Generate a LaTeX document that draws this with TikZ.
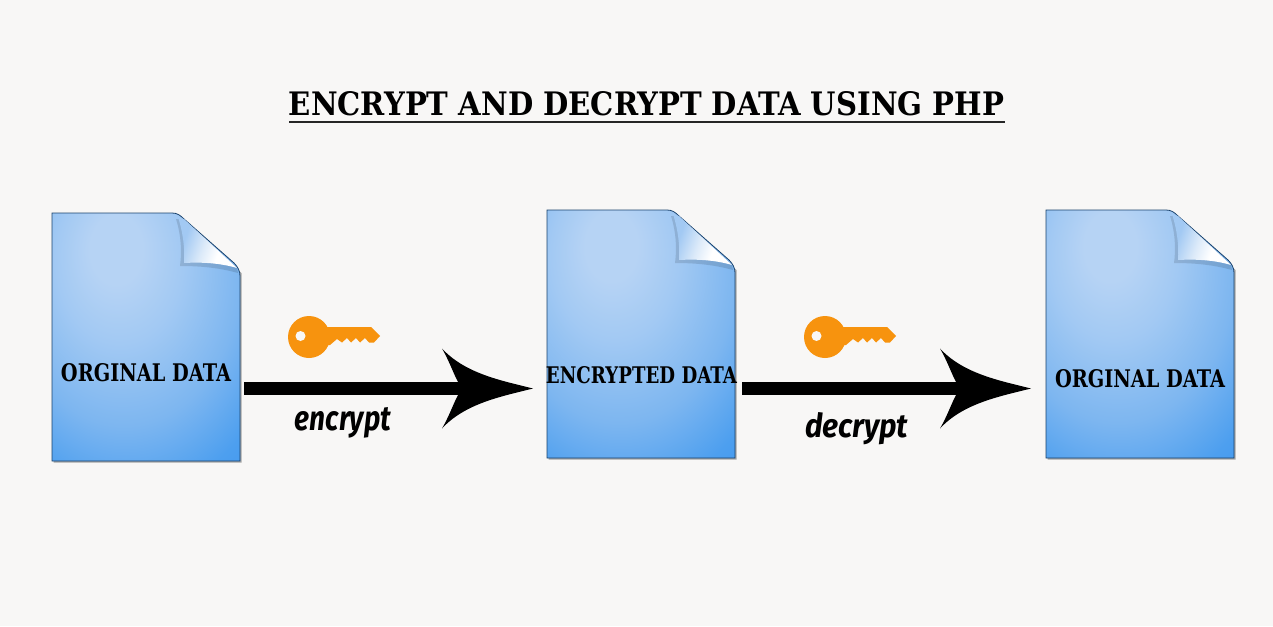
\documentclass[tikz,border=0pt]{standalone}
\usepackage{graphicx}
\usepackage{fontspec}
\setmainfont{DejaVu Serif}
\newfontfamily\labelfont{Fira Sans}
\usetikzlibrary{arrows}
\definecolor{pagebg}{HTML}{F8F7F6}
\definecolor{keyorange}{HTML}{F7930E}
\definecolor{docA}{HTML}{B6D3F4}
\definecolor{docB}{HTML}{A2C9F3}
\definecolor{docC}{HTML}{7DB6F0}
\definecolor{docE}{HTML}{4D9FEF}
\definecolor{docD}{HTML}{3A93EF}
\definecolor{flapmid}{HTML}{DCEAF9}
\pgfdeclareradialshading{docshade}{\pgfpoint{-8.5bp}{19bp}}{
  color(0bp)=(docA); color(7bp)=(docA); color(17bp)=(docB); color(31bp)=(docC); color(43bp)=(docE); color(55bp)=(docD); color(100bp)=(docD)}
\pgfdeclarehorizontalshading{flapshade}{100bp}{color(0bp)=(docB); color(30bp)=(docB); color(48bp)=(flapmid); color(62bp)=(white); color(100bp)=(white)}
\pgfarrowsdeclare{bighead}{bighead}{\pgfarrowsleftextend{-16pt}\pgfarrowsrightextend{75pt}}{
  \pgfsetlinewidth{0pt}
  \pgfpathmoveto{\pgfpoint{75pt}{0pt}}
  \pgfpathcurveto{\pgfpoint{43pt}{8pt}}{\pgfpoint{7pt}{15pt}}{\pgfpoint{-16pt}{40pt}}
  \pgfpathcurveto{\pgfpoint{-9pt}{28pt}}{\pgfpoint{-5pt}{16pt}}{\pgfpoint{0pt}{6.5pt}}
  \pgfpathlineto{\pgfpoint{0pt}{-6.5pt}}
  \pgfpathcurveto{\pgfpoint{-5pt}{-16pt}}{\pgfpoint{-9pt}{-28pt}}{\pgfpoint{-16pt}{-40pt}}
  \pgfpathcurveto{\pgfpoint{7pt}{-15pt}}{\pgfpoint{43pt}{-8pt}}{\pgfpoint{75pt}{0pt}}
  \pgfpathclose\pgfusepathqfill}
\tikzset{
  x=1pt,y=-1pt,
  doctext/.style={inner sep=0pt,font=\bfseries},
  wordlabel/.style={inner sep=0pt,font=\labelfont\bfseries\itshape},
  flow/.style={line width=13pt,-bighead},
  docedge/.style={draw=black!55!docD,line width=0.8pt}
}
\newcommand{\docsheet}[3]{%
  \begin{scope}[shift={(#2,#3)}]
    \fill[black!35] (1.5,1.5) -- (122,1.5) -- (189.5,60) -- (189.5,249.5) -- (1.5,249.5) -- cycle;
    \path[shading=docshade,docedge] (0,0) -- (120,0) .. controls (125,0) and (128,2) .. (132,6)
      -- (182,50) .. controls (186,54) and (188,58) .. (188,63) -- (188,248) -- (0,248) -- cycle;
    \fill[black,opacity=0.12] (124,6) .. controls (129,22) and (130,38) .. (128,53)
      .. controls (150,53) and (168,55) .. (186,60) -- (185,55) -- (132,6) -- cycle;
    \path[shading=flapshade,shading angle=340] (126,4) .. controls (131,20) and (133,35) .. (132,50)
      .. controls (150,49) and (168,50) .. (185,55) -- (132,6) -- cycle;
    \node[minimum width=188pt,minimum height=248pt,inner sep=0pt,anchor=north west] (#1) at (0,0) {};
  \end{scope}}
\newcommand{\keyicon}[2]{%
  \begin{scope}[shift={(#1,#2)}]
    \fill[keyorange] (20,0) circle[radius=21];
    \fill[keyorange] (35,-10) -- (82,-10) -- (91,-1) -- (85,5.5) -- (80,5.5) -- (76,1) -- (71,5.5) -- (67,1) -- (62,5.5) -- (58,1) -- (53,5.5) -- (48,2) -- (41,8) -- (35,8) -- cycle;
    \fill[pagebg] (11.5,-1) circle[radius=5];
  \end{scope}}
\begin{document}
\begin{tikzpicture}
\useasboundingbox (0,0) rectangle (1273,626);
\fill[pagebg] (0,0) rectangle (1273,626);

\node[doctext,anchor=center] (title) at (646.5,104) {\resizebox{715pt}{24pt}{ENCRYPT AND DECRYPT DATA USING PHP}};
\coordinate (ulL) at (289,122);
\coordinate (ulR) at (1005,122);
\draw[line width=2pt,black!85] (ulL) -- (ulR);

\docsheet{d1}{52}{213}
\docsheet{d2}{547}{210}
\docsheet{d3}{1046}{210}

\node[doctext] (t1) at (146,372.5) {\resizebox{170pt}{18pt}{ORGINAL DATA}};
\node[doctext] (t2) at (641.5,375) {\resizebox{191pt}{17pt}{ENCRYPTED DATA}};
\node[doctext] (t3) at (1140,379) {\resizebox{170pt}{18pt}{ORGINAL DATA}};

\keyicon{289}{337}
\keyicon{805}{337}

\coordinate (a1s) at (244,388.5);
\coordinate (a1e) at (533,388.5);
\coordinate (a2s) at (742,388.5);
\coordinate (a2e) at (1031,388.5);
\draw[flow] (a1s) -- (a1e);
\draw[flow] (a2s) -- (a2e);

\node[wordlabel] (enc) at (343,422.5) {\resizebox{96pt}{23pt}{encrypt}};
\node[wordlabel] (dec) at (856.5,429) {\resizebox{103pt}{25pt}{decrypt}};
\end{tikzpicture}
\end{document}
